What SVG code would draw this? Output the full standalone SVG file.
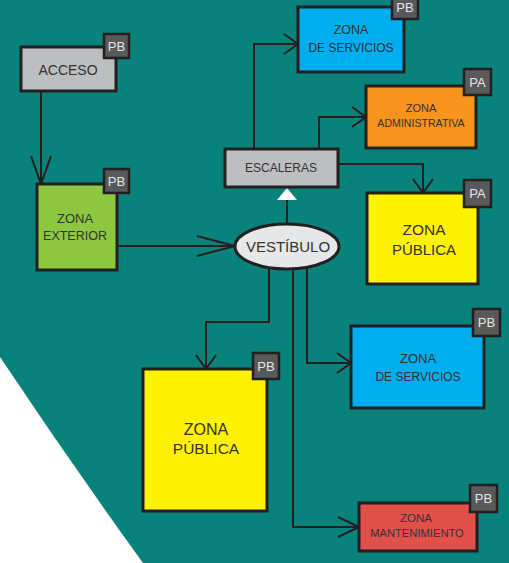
<svg xmlns="http://www.w3.org/2000/svg" width="509" height="563" viewBox="0 0 509 563">
  <style>
    .box { stroke: #231f20; stroke-width: 3; }
    .badge { fill: #58595b; stroke: #231f20; stroke-width: 2.5; }
    .badge-t { fill: #e6e6e6; font-family: "Liberation Sans", Arial, sans-serif; font-size: 13px; text-anchor: middle; }
    .lbl { fill: #333333; font-family: "Liberation Sans", Arial, sans-serif; text-anchor: middle; }
    .wire { fill: none; stroke: #231f20; stroke-width: 2; }
  </style>
  <defs>
    <marker id="head" viewBox="0 0 14 20" refX="14" refY="10" markerWidth="14" markerHeight="20" markerUnits="userSpaceOnUse" orient="auto" overflow="visible">
      <path d="M0,0 L14,10 L0,20" fill="none" stroke="#231f20" stroke-width="2"/>
    </marker>
    <marker id="head21" viewBox="0 0 21 20" refX="21" refY="10" markerWidth="21" markerHeight="20" markerUnits="userSpaceOnUse" orient="auto" overflow="visible">
      <path d="M0,0 L21,10 L0,20" fill="none" stroke="#231f20" stroke-width="2"/>
    </marker>
    <marker id="head28" viewBox="0 0 28 20" refX="28" refY="10" markerWidth="28" markerHeight="20" markerUnits="userSpaceOnUse" orient="auto" overflow="visible">
      <path d="M0,0 L28,10 L0,20" fill="none" stroke="#231f20" stroke-width="2"/>
    </marker>
    <marker id="head38" viewBox="0 0 38 20" refX="38" refY="10" markerWidth="38" markerHeight="20" markerUnits="userSpaceOnUse" orient="auto" overflow="visible">
      <path d="M0,0 L38,10 L0,20" fill="none" stroke="#231f20" stroke-width="2"/>
    </marker>
  </defs>

  <!-- background: white sheet with teal field cut by a diagonal edge -->
  <rect x="0" y="0" width="509" height="563" fill="#ffffff"/>
  <path d="M0,0 H509 V563 H143 Q70,462 0,357 Z" fill="#08827b"/>

  <!-- connectors -->
  <g id="connectors">
    <path class="wire" d="M41,91 V184" marker-end="url(#head28)"/>
    <path class="wire" d="M117,246 H235" marker-end="url(#head38)"/>
    <path class="wire" d="M287,224 V200"/>
    <polygon points="287,188 277,200 297,200" fill="#ffffff"/>
    <path class="wire" d="M254,149 V44 H298" marker-end="url(#head)"/>
    <path class="wire" d="M319,149 V117 H366" marker-end="url(#head)"/>
    <path class="wire" d="M338,164 H423 V193" marker-end="url(#head)"/>
    <path class="wire" d="M269,266 V322 H206 V369" marker-end="url(#head)"/>
    <path class="wire" d="M293,266 V527 H359" marker-end="url(#head21)"/>
    <path class="wire" d="M307,266 V363 H351" marker-end="url(#head)"/>
  </g>

  <!-- nodes -->
  <g id="acceso">
    <rect class="box" x="21" y="47" width="95" height="44" fill="#bcbec0"/>
    <text class="lbl" x="68" y="75" font-size="14">ACCESO</text>
    <rect class="badge" x="104" y="34" width="25" height="24"/>
    <text class="badge-t" x="116.5" y="51">PB</text>
  </g>

  <g id="zona-exterior">
    <rect class="box" x="37" y="184" width="80" height="86" fill="#8dc63f"/>
    <text class="lbl" x="75" y="223" font-size="13">ZONA</text>
    <text class="lbl" x="75" y="240" font-size="12.5">EXTERIOR</text>
    <rect class="badge" x="104" y="169" width="25" height="24"/>
    <text class="badge-t" x="116.5" y="186">PB</text>
  </g>

  <g id="vestibulo">
    <ellipse cx="287" cy="246.5" rx="52" ry="22.5" fill="#e6e7e8" stroke="#231f20" stroke-width="3"/>
    <text class="lbl" x="288" y="252" font-size="15">VESTÍBULO</text>
  </g>

  <g id="escaleras">
    <rect class="box" x="225" y="149" width="113" height="38" fill="#bcbec0"/>
    <text class="lbl" x="281" y="172" font-size="12">ESCALERAS</text>
  </g>

  <g id="servicios-pb-top">
    <rect class="box" x="298" y="7" width="106" height="65" fill="#00aeef"/>
    <text class="lbl" x="351" y="34" font-size="12.5">ZONA</text>
    <text class="lbl" x="351" y="52" font-size="12">DE SERVICIOS</text>
    <rect class="badge" x="392" y="-6" width="26" height="25"/>
    <text class="badge-t" x="405" y="12">PB</text>
  </g>

  <g id="administrativa">
    <rect class="box" x="366" y="86" width="110" height="62" fill="#f7941d"/>
    <text class="lbl" x="421" y="112" font-size="11">ZONA</text>
    <text class="lbl" x="421" y="127" font-size="10.6">ADMINISTRATIVA</text>
    <rect class="badge" x="464" y="69" width="27" height="26"/>
    <text class="badge-t" x="477.5" y="87">PA</text>
  </g>

  <g id="publica-pa">
    <rect class="box" x="367" y="193" width="111" height="91" fill="#fff200"/>
    <text class="lbl" x="424" y="235" font-size="15.5">ZONA</text>
    <text class="lbl" x="424" y="255" font-size="15">PÚBLICA</text>
    <rect class="badge" x="464" y="180" width="27" height="27"/>
    <text class="badge-t" x="477.5" y="198">PA</text>
  </g>

  <g id="servicios-pb">
    <rect class="box" x="351" y="326" width="133" height="82" fill="#00aeef"/>
    <text class="lbl" x="418" y="363" font-size="13">ZONA</text>
    <text class="lbl" x="418" y="381" font-size="12">DE SERVICIOS</text>
    <rect class="badge" x="473" y="309" width="27" height="27"/>
    <text class="badge-t" x="486.5" y="327">PB</text>
  </g>

  <g id="publica-pb">
    <rect class="box" x="143" y="369" width="124" height="142" fill="#fff200"/>
    <text class="lbl" x="206" y="435" font-size="16">ZONA</text>
    <text class="lbl" x="206" y="454" font-size="15.5">PÚBLICA</text>
    <rect class="badge" x="253" y="353" width="26" height="26"/>
    <text class="badge-t" x="266" y="371">PB</text>
  </g>

  <g id="mantenimiento">
    <rect class="box" x="359" y="503" width="118" height="48" fill="#e2504c"/>
    <text class="lbl" x="416" y="522" font-size="11.5">ZONA</text>
    <text class="lbl" x="417" y="537" font-size="11.2">MANTENIMIENTO</text>
    <rect class="badge" x="470" y="485" width="27" height="27"/>
    <text class="badge-t" x="483.5" y="503">PB</text>
  </g>
</svg>
